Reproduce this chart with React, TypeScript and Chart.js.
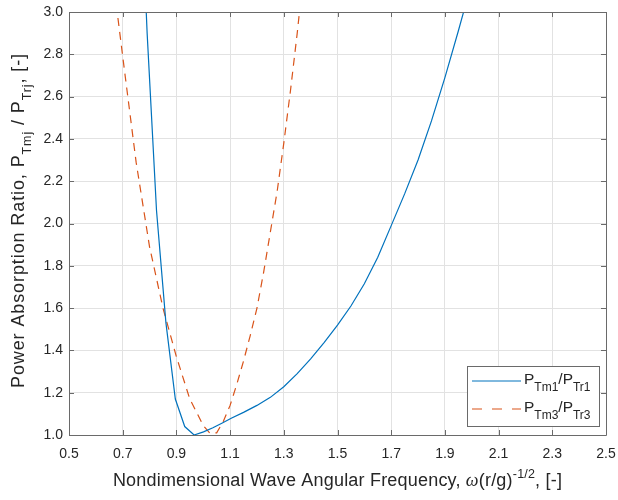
import React, { useEffect, useRef } from "react";
import { Chart, registerables } from "chart.js";

Chart.register(...registerables);

// ---------------- data ----------------
const xTickValues = [0.5, 0.7, 0.9, 1.1, 1.3, 1.5, 1.7, 1.9, 2.1, 2.3, 2.5];
const yTickValues = [1.0, 1.2, 1.4, 1.6, 1.8, 2.0, 2.2, 2.4, 2.6, 2.8, 3.0];

const tm1Freq = [0.756, 0.791, 0.826, 0.861, 0.896, 0.931, 0.966, 1.001, 1.036, 1.071, 1.106, 1.15, 1.2, 1.25, 1.3, 1.35, 1.4, 1.45, 1.5, 1.55, 1.6, 1.65, 1.7, 1.75, 1.8, 1.85, 1.9, 1.95, 2.0];
const tm1Ratio = [3.95, 2.9, 2.06, 1.53, 1.17, 1.04, 1.0, 1.015, 1.034, 1.057, 1.08, 1.107, 1.14, 1.178, 1.228, 1.29, 1.36, 1.437, 1.52, 1.61, 1.715, 1.84, 1.99, 2.14, 2.3, 2.485, 2.69, 2.91, 3.14];

const tm3Freq = [0.65, 0.7, 0.75, 0.8, 0.85, 0.9, 0.95, 1.0, 1.025, 1.05, 1.075, 1.1, 1.125, 1.15, 1.175, 1.2, 1.225, 1.25, 1.275, 1.3, 1.325, 1.35, 1.375];
const tm3Ratio = [3.3, 2.79, 2.29, 1.89, 1.6, 1.37, 1.17, 1.045, 1.008, 1.01, 1.065, 1.14, 1.24, 1.35, 1.47, 1.6, 1.77, 1.96, 2.15, 2.38, 2.63, 2.9, 3.2];

type Seg = { t: string; k?: "sub" | "sup" | "it" };

const seriesColors = ["#0072BD", "#D95319"];
const seriesDash: number[][] = [[], [8, 6]];
const legendDash: number[][] = [[], [10, 10]];

const legendLabels: Seg[][] = [
  [{ t: "P" }, { t: "Tm1", k: "sub" }, { t: "/P" }, { t: "Tr1", k: "sub" }],
  [{ t: "P" }, { t: "Tm3", k: "sub" }, { t: "/P" }, { t: "Tr3", k: "sub" }],
];
const xTitle: Seg[] = [
  { t: "Nondimensional Wave Angular Frequency, " },
  { t: "\u03C9", k: "it" },
  { t: "(r/g)" },
  { t: "-1/2", k: "sup" },
  { t: ", [-]" },
];
const yTitle: Seg[] = [
  { t: "Power Absorption Ratio, P" },
  { t: "Tmj", k: "sub" },
  { t: " / P" },
  { t: "Trj", k: "sub" },
  { t: ", [-]" },
];

const TEXT = "#262626";
const AXIS = "#6a6a6a";
const GRID = "#e2e2e2";
const FAM = '"Liberation Sans", Arial, Helvetica, sans-serif';

function segFont(k: Seg["k"], base: number, small: number) {
  if (k === "sub" || k === "sup") return `${small}px ${FAM}`;
  if (k === "it") return `italic ${base}px "Liberation Serif", "DejaVu Serif", serif`;
  return `${base}px ${FAM}`;
}

function setSpacing(ctx: any, sp: number) {
  if ("letterSpacing" in ctx) ctx.letterSpacing = `${sp}px`;
}

function richWidth(ctx: CanvasRenderingContext2D, segs: Seg[], base: number, small: number, sp: number) {
  let w = 0;
  setSpacing(ctx, sp);
  for (const s of segs) {
    ctx.font = segFont(s.k, base, small);
    w += ctx.measureText(s.t).width;
  }
  return w;
}

function drawRich(
  ctx: CanvasRenderingContext2D,
  segs: Seg[],
  x: number,
  y: number,
  base: number,
  small: number,
  align: "left" | "center",
  sp = 0,
  subDrop = 0.4
) {
  const w = richWidth(ctx, segs, base, small, sp);
  let cx = align === "center" ? x - w / 2 : x;
  ctx.textAlign = "left";
  ctx.textBaseline = "alphabetic";
  setSpacing(ctx, sp);
  for (const s of segs) {
    ctx.font = segFont(s.k, base, small);
    const dy = s.k === "sub" ? base * subDrop : s.k === "sup" ? -base * 0.42 : 0;
    ctx.fillText(s.t, cx, y + dy);
    cx += ctx.measureText(s.t).width;
  }
  setSpacing(ctx, 0);
}

const crisp = (v: number) => Math.round(v) + 0.5;

const decorPlugin = {
  id: "matlabDecor",
  afterDatasetsDraw(chart: any) {
    const ctx: CanvasRenderingContext2D = chart.ctx;
    const { left, right, top, bottom } = chart.chartArea;
    const xs = chart.scales.x;
    const ys = chart.scales.y;
    ctx.save();
    ctx.strokeStyle = AXIS;
    ctx.lineWidth = 1;
    ctx.beginPath();
    ctx.rect(crisp(left), crisp(top), Math.round(right) - Math.round(left), Math.round(bottom) - Math.round(top));
    ctx.stroke();
    const tl = 5;
    ctx.beginPath();
    for (const v of xTickValues) {
      const px = crisp(xs.getPixelForValue(v));
      ctx.moveTo(px, bottom);
      ctx.lineTo(px, bottom - tl);
      ctx.moveTo(px, top);
      ctx.lineTo(px, top + tl);
    }
    for (const v of yTickValues) {
      const py = crisp(ys.getPixelForValue(v));
      ctx.moveTo(left, py);
      ctx.lineTo(left + tl, py);
      ctx.moveTo(right, py);
      ctx.lineTo(right - tl, py);
    }
    ctx.stroke();
    ctx.restore();
  },
  afterDraw(chart: any) {
    const ctx: CanvasRenderingContext2D = chart.ctx;
    const { left, right, top, bottom } = chart.chartArea;
    ctx.save();
    ctx.fillStyle = TEXT;
    // x title
    drawRich(ctx, xTitle, (left + right) / 2, 486, 18, 12.5, "center", 0.2);
    // y title
    ctx.save();
    ctx.translate(24, (top + bottom) / 2 - 3);
    ctx.rotate(-Math.PI / 2);
    drawRich(ctx, yTitle, 0, 0, 18, 12.5, "center", 0.9, 0.38);
    ctx.restore();

    // legend
    const bx = 467, by = 366, bw = 132, bh = 60;
    ctx.fillStyle = "#ffffff";
    ctx.fillRect(bx, by, bw, bh);
    ctx.strokeStyle = AXIS;
    ctx.lineWidth = 1;
    ctx.strokeRect(bx + 0.5, by + 0.5, bw, bh);
    const rowsY = [381, 409];
    for (let i = 0; i < legendLabels.length; i++) {
      const ly = rowsY[i];
      ctx.save();
      ctx.strokeStyle = seriesColors[i];
      ctx.lineWidth = 1;
      ctx.setLineDash(legendDash[i]);
      ctx.beginPath();
      ctx.moveTo(472, ly);
      ctx.lineTo(521, ly);
      ctx.stroke();
      ctx.restore();
      ctx.fillStyle = TEXT;
      drawRich(ctx, legendLabels[i], 524, ly + 2.5, 15.5, 12, "left", 0, 0.46);
    }
    ctx.restore();
  },
};

export default function App() {
  const ref = useRef<HTMLCanvasElement | null>(null);
  useEffect(() => {
    if (!ref.current) return;
    const chart = new Chart(ref.current, {
      type: "line",
      data: {
        datasets: [
          {
            label: "PTm1/PTr1",
            data: tm1Freq.map((x, i) => ({ x, y: tm1Ratio[i] })),
            borderColor: seriesColors[0],
            borderWidth: 1.2,
            borderDash: seriesDash[0],
            pointRadius: 0,
            tension: 0,
            clip: 0,
          },
          {
            label: "PTm3/PTr3",
            data: tm3Freq.map((x, i) => ({ x, y: tm3Ratio[i] })),
            borderColor: seriesColors[1],
            borderWidth: 1.2,
            borderDash: seriesDash[1],
            pointRadius: 0,
            tension: 0,
            clip: 0,
          },
        ],
      },
      options: {
        responsive: false,
        animation: false,
        events: [],
        layout: { padding: { left: 0, top: 12, right: 12, bottom: 0 } },
        plugins: { legend: { display: false }, tooltip: { enabled: false } },
        scales: {
          x: {
            type: "linear",
            min: 0.5,
            max: 2.5,
            afterBuildTicks: (s: any) => {
              s.ticks = xTickValues.map((v) => ({ value: v }));
            },
            afterFit: (s: any) => {
              s.height = 65;
              s.paddingLeft = 0;
              s.paddingRight = 0;
            },
            ticks: {
              callback: (v: any) => Number(v).toFixed(1),
              color: TEXT,
              font: { family: FAM, size: 14 },
              padding: 11,
              maxRotation: 0,
              autoSkip: false,
            },
            grid: { color: GRID, lineWidth: 1, drawTicks: false },
            border: { display: false },
          },
          y: {
            type: "linear",
            min: 1.0,
            max: 3.0,
            afterBuildTicks: (s: any) => {
              s.ticks = yTickValues.map((v) => ({ value: v }));
            },
            afterFit: (s: any) => {
              s.width = 69;
              s.paddingTop = 0;
              s.paddingBottom = 0;
            },
            ticks: {
              callback: (v: any) => Number(v).toFixed(1),
              color: TEXT,
              font: { family: FAM, size: 14 },
              padding: 6,
              autoSkip: false,
            },
            grid: { color: GRID, lineWidth: 1, drawTicks: false },
            border: { display: false },
          },
        },
      },
      plugins: [decorPlugin],
    } as any);
    return () => chart.destroy();
  }, []);
  return (
    <div style={{ position: "fixed", left: 0, top: 0, width: 618, height: 500, background: "#fff" }}>
      <canvas ref={ref} width={618} height={500} style={{ display: "block" }} />
    </div>
  );
}
